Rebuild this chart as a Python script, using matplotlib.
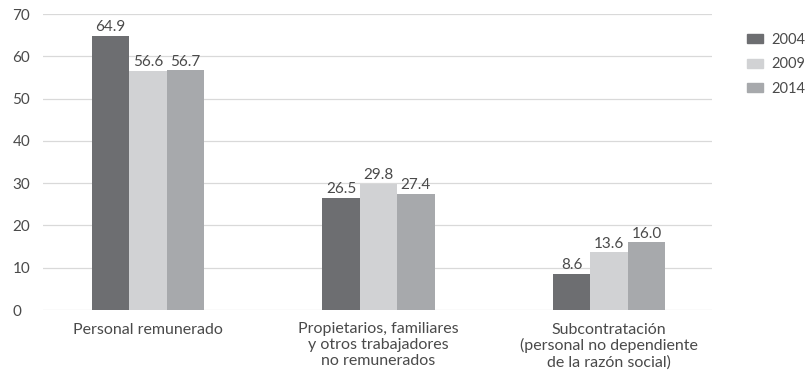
import numpy as np
import matplotlib.pyplot as plt
from matplotlib.patches import Patch

plt.rcParams['font.family'] = ['Lato', 'DejaVu Sans']

categorias = ["Personal remunerado",
              "Propietarios, familiares\ny otros trabajadores\nno remunerados",
              "Subcontratación\n(personal no dependiente\nde la razón social)"]
anios = ["2004", "2009", "2014"]
v2004 = [64.9, 26.5, 8.6]
v2009 = [56.6, 29.8, 13.6]
v2014 = [56.7, 27.4, 16.0]
colores = ["#6d6e71", "#d1d2d4", "#a7a9ac"]
txt = "#4a4a4a"

fig = plt.figure(figsize=(8.08, 3.79), dpi=100)
ax = fig.add_axes([43/808, 1 - 310/379, (712-43)/808, (310-14)/379])

x = np.arange(len(categorias))
ancho = 0.1625
for i, (serie, color) in enumerate(zip([v2004, v2009, v2014], colores)):
    pos = x + (i - 1) * ancho
    ax.bar(pos, serie, width=ancho, color=color, zorder=2)
    for p, v in zip(pos, serie):
        ax.text(p, v + 0.4, f"{v:.1f}", ha="center", va="bottom",
                fontsize=11, color=txt)

ax.set_ylim(0, 70)
ax.set_yticks(range(0, 71, 10))
ax.set_xlim(-0.455, 2.447)
ax.set_xticks(x)
ax.set_xticklabels(categorias, fontsize=11.5, color=txt, linespacing=1.15)
ax.tick_params(axis="both", length=0)
ax.tick_params(axis="y", labelsize=11, labelcolor=txt, pad=22)
ax.tick_params(axis="x", pad=9)
for lbl in ax.get_yticklabels():
    lbl.set_horizontalalignment("left")
ax.yaxis.grid(True, color="#d9d9d9", linewidth=0.9, zorder=0)
for s in ax.spines.values():
    s.set_visible(False)

handles = [Patch(color=c) for c in colores]
fig.legend(handles, anios, loc="upper left", bbox_to_anchor=(747/808, 1 - 33/379),
           frameon=False, fontsize=10.5, handlelength=1.1, handleheight=0.55,
           labelspacing=0.72, handletextpad=0.6, borderpad=0, borderaxespad=0,
           labelcolor=txt)

fig.savefig("out.png", dpi=100)
